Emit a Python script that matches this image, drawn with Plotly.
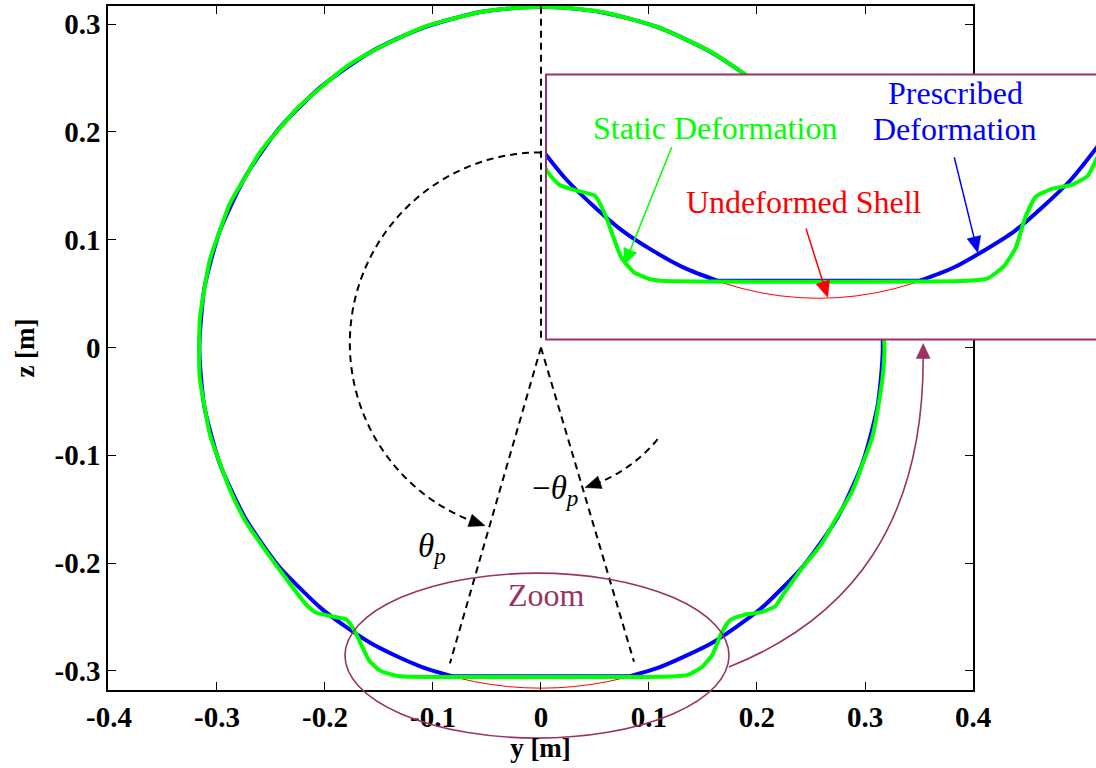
import numpy as np
import plotly.graph_objects as go

W, H = 1096, 768

# ---------------- data ----------------
# Undeformed shell radius [m]
R_SHELL = 0.316

# Prescribed deformation: contour radius [m] sampled every 5 deg outside the flattened patch
BLUE_ANGLE_DEG = list(range(-75, 256, 5))
BLUE_R = [
    0.3158, 0.3163, 0.3159, 0.3165, 0.3160, 0.3164, 0.3158, 0.3163, 0.3160, 0.3166,
    0.3161, 0.3164, 0.3159, 0.3163, 0.3160, 0.3165, 0.3161, 0.3158, 0.3163, 0.3159,
    0.3164, 0.3160, 0.3157, 0.3162, 0.3159, 0.3163, 0.3158, 0.3161, 0.3157, 0.3162,
    0.3159, 0.3161, 0.3158, 0.3160, 0.3158, 0.3162, 0.3157, 0.3161, 0.3159, 0.3163,
    0.3158, 0.3162, 0.3159, 0.3164, 0.3160, 0.3163, 0.3158, 0.3164, 0.3160, 0.3165,
    0.3159, 0.3163, 0.3160, 0.3165, 0.3159, 0.3163, 0.3158, 0.3162, 0.3159, 0.3164,
    0.3157, 0.3162, 0.3159, 0.3163, 0.3160, 0.3162, 0.3158,
]

# Static deformation: upper contour in polar form ...
GREEN_ANGLE_DEG = list(range(-40, 221, 5))
GREEN_R = [
    0.3165, 0.3172, 0.3160, 0.3175, 0.3168, 0.3178, 0.3170, 0.3175, 0.3180, 0.3172,
    0.3165, 0.3170, 0.3160, 0.3168, 0.3158, 0.3165, 0.3155, 0.3162, 0.3168, 0.3158,
    0.3163, 0.3157, 0.3162, 0.3158, 0.3163, 0.3160, 0.3162, 0.3158, 0.3163, 0.3157,
    0.3165, 0.3158, 0.3162, 0.3168, 0.3158, 0.3165, 0.3160, 0.3170, 0.3162, 0.3175,
    0.3165, 0.3172, 0.3163, 0.3170, 0.3165, 0.3172, 0.3163, 0.3170, 0.3160, 0.3168,
    0.3175, 0.3170, 0.3178,
]
# ... and the contact region in cartesian form [m]
GREEN_BOTTOM_Y = [-0.2182, -0.2089, -0.1954, -0.1800, -0.1725, -0.1660, -0.1590, -0.1490,
                  -0.1363, -0.1270, 0.1200, 0.1363, 0.1490, 0.1590, 0.1665, 0.1750,
                  0.1880, 0.2040, 0.2169, 0.2236]
GREEN_BOTTOM_Z = [-0.2375, -0.2455, -0.2490, -0.2525, -0.2630, -0.2765, -0.2905, -0.2997,
                  -0.3040, -0.3051, -0.3051, -0.3036, -0.2964, -0.2845, -0.2660, -0.2530,
                  -0.2480, -0.2455, -0.2400, -0.2300]

X_TICKS = [-0.4, -0.3, -0.2, -0.1, 0, 0.1, 0.2, 0.3, 0.4]
X_TICK_LABELS = ["-0.4", "-0.3", "-0.2", "-0.1", "0", "0.1", "0.2", "0.3", "0.4"]
Z_TICKS = [-0.3, -0.2, -0.1, 0, 0.1, 0.2, 0.3]
Z_TICK_LABELS = ["-0.3", "-0.2", "-0.1", "0", "0.1", "0.2", "0.3"]

assert len(BLUE_R) == len(BLUE_ANGLE_DEG)
assert len(GREEN_R) == len(GREEN_ANGLE_DEG)


def polar_to_yz(angles_deg, radii):
    a = np.deg2rad(np.asarray(angles_deg, dtype=float))
    r = np.asarray(radii, dtype=float)
    return list(r * np.cos(a)), list(r * np.sin(a))


# prescribed contour: curved part plus the flat contact patch joining its two ends
by, bz = polar_to_yz(BLUE_ANGLE_DEG, BLUE_R)
blue_flat_y = [by[-1], by[0]]
blue_flat_z = [bz[-1], bz[0]]

# static contour: curved upper part, contact region closing the loop
gy, gz = polar_to_yz(GREEN_ANGLE_DEG, GREEN_R)
green_low_y = [gy[-1]] + GREEN_BOTTOM_Y + [gy[0]]
green_low_z = [gz[-1]] + GREEN_BOTTOM_Z + [gz[0]]

# ---------------- layout geometry ----------------
MAIN_L, MAIN_R, MAIN_T, MAIN_B = 108, 973, 6, 690
X_RANGE = [-0.4009, 0.4]
Z_RANGE = [-0.3177, 0.3168]

INS_L, INS_R, INS_T, INS_B = 546, 1096, 74.5, 339.5
INS_X_RANGE = [-0.2196, 0.2236]
INS_Z_RANGE = [-0.3416, -0.1770]

PURPLE = "#993366"
BLUE = "#0000FF"
GREEN = "#00FF00"
RED = "#FF0000"
FONT = "Liberation Serif"


def main_px(y, z):
    X = MAIN_L + (y - X_RANGE[0]) / (X_RANGE[1] - X_RANGE[0]) * (MAIN_R - MAIN_L)
    Y = MAIN_B - (z - Z_RANGE[0]) / (Z_RANGE[1] - Z_RANGE[0]) * (MAIN_B - MAIN_T)
    return X, Y


def inset_px(y, z):
    X = INS_L + (y - INS_X_RANGE[0]) / (INS_X_RANGE[1] - INS_X_RANGE[0]) * (INS_R - INS_L)
    Y = INS_B - (z - INS_Z_RANGE[0]) / (INS_Z_RANGE[1] - INS_Z_RANGE[0]) * (INS_B - INS_T)
    return X, Y


def paper(X, Y):
    return X / W, 1 - Y / H


def px_path(points, close=False):
    parts = []
    for i, (X, Y) in enumerate(points):
        px_, py_ = paper(X, Y)
        parts.append(("M" if i == 0 else "L") + f"{px_:.5f},{py_:.5f}")
    if close:
        parts.append("Z")
    return " ".join(parts)


def arc_points(cy, cz, r, a0, a1, n=80):
    t = np.deg2rad(np.linspace(a0, a1, n))
    return [main_px(cy + r * np.cos(v), cz + r * np.sin(v)) for v in t]


def head(tip, tail, length, width):
    tx, ty = tip
    dx, dy = tx - tail[0], ty - tail[1]
    n = np.hypot(dx, dy)
    ux, uy = dx / n, dy / n
    bx, by_ = tx - ux * length, ty - uy * length
    px_, py_ = -uy, ux
    return [(tx, ty), (bx + px_ * width / 2, by_ + py_ * width / 2),
            (bx - px_ * width / 2, by_ - py_ * width / 2)], (bx, by_)


shapes = []


def add_line_path(points, color, width, dash=None, close=False):
    shapes.append(dict(type="path", xref="paper", yref="paper", path=px_path(points, close),
                       line=dict(color=color, width=width, dash=dash), layer="above"))


def add_head(tip, tail, color, length=15, width=13):
    tri, base = head(tip, tail, length, width)
    shapes.append(dict(type="path", xref="paper", yref="paper", path=px_path(tri, True),
                       fillcolor=color, line=dict(color=color, width=0.5), layer="above"))
    return base


def add_arrow(tail, tip, color, lw=1.5, length=15, width=13):
    base = add_head(tip, tail, color, length, width)
    add_line_path([tail, base], color, lw)


DASH = "7px,5px"

# radial construction lines
add_line_path([main_px(0, 0.316), main_px(0, 0.007)], "black", 2, DASH)
add_line_path([main_px(0, 0.0), main_px(-0.0843, -0.293)], "black", 2, DASH)
add_line_path([main_px(0, 0.0), main_px(0.0861, -0.2915)], "black", 2, DASH)

# theta_p arc (counter-clockwise from the top)
cz0 = 0.004
add_line_path(arc_points(0, cz0, 0.177, 90, 248.5), "black", 2, DASH)
tip = main_px(0.177 * np.cos(np.deg2rad(253)), cz0 + 0.177 * np.sin(np.deg2rad(253)))
prev = main_px(0.177 * np.cos(np.deg2rad(249)), cz0 + 0.177 * np.sin(np.deg2rad(249)))
add_head(tip, prev, "black", 16, 13)

# -theta_p arc (clockwise)
add_line_path(arc_points(0, cz0, 0.140, -39.5, -67.5), "black", 2, DASH)
tip = main_px(0.140 * np.cos(np.deg2rad(-73.1)), cz0 + 0.140 * np.sin(np.deg2rad(-73.1)))
prev = main_px(0.140 * np.cos(np.deg2rad(-68)), cz0 + 0.140 * np.sin(np.deg2rad(-68)))
add_head(tip, prev, "black", 16, 13)

# zoom ellipse (drawn unclipped so it can overlap the tick labels)
ex0, ey0 = paper(*main_px(-0.0037 - 0.1778, -0.2858 - 0.0765))
ex1, ey1 = paper(*main_px(-0.0037 + 0.1778, -0.2858 + 0.0765))
shapes.append(dict(type="circle", xref="paper", yref="paper", x0=ex0, x1=ex1,
                   y0=ey0, y1=ey1, line=dict(color=PURPLE, width=1.6), layer="above"))

# curved arrow from the ellipse to the inset
P0 = main_px(0.174, -0.2964)
P1 = main_px(0.290, -0.250)
P2 = main_px(0.3539, -0.160)
P3 = main_px(0.3539, -0.0097)
cpath = "M{:.5f},{:.5f} C{:.5f},{:.5f} {:.5f},{:.5f} {:.5f},{:.5f}".format(
    *paper(*P0), *paper(*P1), *paper(*P2), *paper(*P3))
shapes.append(dict(type="path", xref="paper", yref="paper", path=cpath,
                   line=dict(color=PURPLE, width=1.6), layer="above"))
add_head(main_px(0.3539, 0.0037), main_px(0.3539, -0.02), PURPLE, 15, 14)

# inset frame
fx0, fy0 = paper(INS_L, INS_B)
fx1, fy1 = paper(INS_R + 20, INS_T)
shapes.append(dict(type="rect", xref="paper", yref="paper", x0=fx0, x1=fx1, y0=fy0, y1=fy1,
                   line=dict(color=PURPLE, width=2), layer="above"))

# inset pointer arrows
add_arrow(inset_px(-0.1183, -0.2222), inset_px(-0.1565, -0.2953), GREEN, 1.5, 16, 14)
add_arrow(inset_px(0.1094, -0.2285), inset_px(0.1283, -0.2877), BLUE, 1.5, 16, 14)
add_arrow(inset_px(-0.0101, -0.2726), inset_px(0.0074, -0.3154), RED, 1.5, 16, 14)

# undeformed shell in both views
for xr, yr in (("x", "y"), ("x2", "y2")):
    shapes.append(dict(type="circle", xref=xr, yref=yr, x0=-R_SHELL, x1=R_SHELL,
                       y0=-R_SHELL, y1=R_SHELL, line=dict(color=RED, width=1), layer="below"))

fig = go.Figure()
for xa, ya in (("x", "y"), ("x2", "y2")):
    fig.add_trace(go.Scatter(x=by, y=bz, mode="lines", xaxis=xa, yaxis=ya,
                             line=dict(color=BLUE, width=4, shape="spline", smoothing=0.8),
                             hoverinfo="skip"))
    fig.add_trace(go.Scatter(x=blue_flat_y, y=blue_flat_z, mode="lines", xaxis=xa, yaxis=ya,
                             line=dict(color=BLUE, width=4), hoverinfo="skip"))
    fig.add_trace(go.Scatter(x=gy, y=gz, mode="lines", xaxis=xa, yaxis=ya,
                             line=dict(color=GREEN, width=4, shape="spline", smoothing=0.8),
                             hoverinfo="skip"))
    fig.add_trace(go.Scatter(x=green_low_y, y=green_low_z, mode="lines", xaxis=xa, yaxis=ya,
                             line=dict(color=GREEN, width=4, shape="spline", smoothing=0.5),
                             hoverinfo="skip"))

tick_font = dict(family=FONT, size=29, color="black", weight="bold")
title_font = dict(family=FONT, size=27, color="black", weight="bold")

annotations = [
    dict(xref="x2", yref="y2", x=-0.0838, y=-0.2105, text="Static Deformation",
         font=dict(family=FONT, size=32, color=GREEN), showarrow=False),
    dict(xref="x2", yref="y2", x=0.1102, y=-0.1883, text="Prescribed",
         font=dict(family=FONT, size=32, color=BLUE), showarrow=False),
    dict(xref="x2", yref="y2", x=0.1099, y=-0.2111, text="Deformation",
         font=dict(family=FONT, size=32, color=BLUE), showarrow=False),
    dict(xref="x2", yref="y2", x=-0.0117, y=-0.2560, text="Undeformed Shell",
         font=dict(family=FONT, size=32, color=RED), showarrow=False),
    dict(xref="x", yref="y", x=0.0051, y=-0.2296, text="Zoom",
         font=dict(family=FONT, size=32, color=PURPLE), showarrow=False),
    dict(xref="x", yref="y", x=-0.101, y=-0.186, text="<i>θ<sub>p</sub></i>",
         font=dict(family=FONT, size=33, color="black"), showarrow=False),
    dict(xref="x", yref="y", x=0.0134, y=-0.1322, text="−<i>θ<sub>p</sub></i>",
         font=dict(family=FONT, size=33, color="black"), showarrow=False),
]

axis_common = dict(ticks="inside", ticklen=8, tickwidth=1, tickcolor="black",
                   showline=True, linecolor="black", linewidth=1.5, mirror="ticks",
                   showgrid=False, zeroline=False, tickfont=tick_font)

hidden = dict(showline=False, showticklabels=False, ticks="", showgrid=False, zeroline=False)

fig.update_layout(
    width=W, height=H, margin=dict(l=0, r=0, t=0, b=0, autoexpand=False),
    paper_bgcolor="white", plot_bgcolor="white", showlegend=False,
    xaxis=dict(domain=[MAIN_L / W, MAIN_R / W], range=X_RANGE, tickvals=X_TICKS,
               ticktext=X_TICK_LABELS, anchor="y", automargin=False,
               title=dict(text="y [m]", font=title_font, standoff=6), **axis_common),
    yaxis=dict(domain=[1 - MAIN_B / H, 1 - MAIN_T / H], range=Z_RANGE, tickvals=Z_TICKS,
               ticktext=Z_TICK_LABELS, anchor="x", automargin=False,
               title=dict(text="z [m]", font=title_font, standoff=12), **axis_common),
    xaxis2=dict(domain=[INS_L / W, 1.0], range=INS_X_RANGE, anchor="y2", **hidden),
    yaxis2=dict(domain=[1 - INS_B / H, 1 - INS_T / H], range=INS_Z_RANGE, anchor="x2", **hidden),
    shapes=shapes,
    annotations=annotations,
)

fig.write_html("out.html")
